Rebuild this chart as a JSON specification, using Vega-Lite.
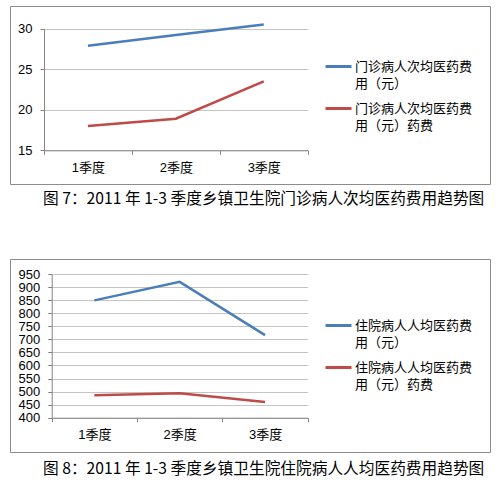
{
  "$schema": "https://vega.github.io/schema/vega-lite/v6.json",
  "background": "white",
  "padding": {"left": 9, "top": 5, "right": 5, "bottom": 0},
  "spacing": 50,
  "datasets": {
    "outpatient": [
      {"季度": "1季度", "指标": "门诊病人次均医药费用（元）", "费用": 27.9},
      {"季度": "2季度", "指标": "门诊病人次均医药费用（元）", "费用": 29.2},
      {"季度": "3季度", "指标": "门诊病人次均医药费用（元）", "费用": 30.5},
      {"季度": "1季度", "指标": "门诊病人次均医药费用（元）药费", "费用": 18.0},
      {"季度": "2季度", "指标": "门诊病人次均医药费用（元）药费", "费用": 18.9},
      {"季度": "3季度", "指标": "门诊病人次均医药费用（元）药费", "费用": 23.5}
    ],
    "inpatient": [
      {"季度": "1季度", "指标": "住院病人人均医药费用（元）", "费用": 849},
      {"季度": "2季度", "指标": "住院病人人均医药费用（元）", "费用": 920},
      {"季度": "3季度", "指标": "住院病人人均医药费用（元）", "费用": 716},
      {"季度": "1季度", "指标": "住院病人人均医药费用（元）药费", "费用": 486},
      {"季度": "2季度", "指标": "住院病人人均医药费用（元）药费", "费用": 494},
      {"季度": "3季度", "指标": "住院病人人均医药费用（元）药费", "费用": 460}
    ]
  },
  "resolve": {"scale": {"color": "independent"}, "legend": {"color": "independent"}},
  "vconcat": [
    {
      "width": 480,
      "height": 178,
      "data": {"name": "outpatient"},
      "title": {"text": "图 7：2011 年 1-3 季度乡镇卫生院门诊病人次均医药费用趋势图", "orient": "bottom", "anchor": "start", "dx": 33, "offset": 8},
      "mark": {"type": "line", "strokeWidth": 2.5},
      "encoding": {
        "x": {
          "field": "季度", "type": "nominal", "sort": null, "bandPosition": 0.5,
          "scale": {"type": "band", "range": [34, 297.7], "paddingInner": 0, "paddingOuter": 0},
          "axis": {"title": null, "offset": -33.7, "labelAngle": 0, "tickBand": "extent", "tickSize": 4, "labelPadding": 7, "grid": false}
        },
        "y": {
          "field": "费用", "type": "quantitative",
          "scale": {"domain": [15, 30], "range": [144.3, 22.6], "nice": false, "zero": false},
          "axis": {"title": null, "offset": -34, "values": [15, 20, 25, 30], "tickSize": 4, "labelPadding": 8, "grid": true}
        },
        "color": {
          "field": "指标", "type": "nominal", "sort": null,
          "scale": {"range": ["#4a7ebb", "#be4b48"]},
          "legend": {"legendX": 314, "legendY": 46, "labelExpr": "[substring(datum.label, 0, 9), substring(datum.label, 9)]"}
        }
      }
    },
    {
      "width": 480,
      "height": 193,
      "data": {"name": "inpatient"},
      "title": {"text": "图 8：2011 年 1-3 季度乡镇卫生院住院病人人均医药费用趋势图", "orient": "bottom", "anchor": "start", "dx": 33, "offset": 10},
      "mark": {"type": "line", "strokeWidth": 2.5},
      "encoding": {
        "x": {
          "field": "季度", "type": "nominal", "sort": null, "bandPosition": 0.5,
          "scale": {"type": "band", "range": [41.7, 297.7], "paddingInner": 0, "paddingOuter": 0},
          "axis": {"title": null, "offset": -34.3, "labelAngle": 0, "tickBand": "extent", "tickSize": 4, "labelPadding": 7, "grid": false}
        },
        "y": {
          "field": "费用", "type": "quantitative",
          "scale": {"domain": [400, 950], "range": [158.7, 15], "nice": false, "zero": false},
          "axis": {"title": null, "offset": -41.7, "values": [400, 450, 500, 550, 600, 650, 700, 750, 800, 850, 900, 950], "tickSize": 4, "labelPadding": 8, "grid": true}
        },
        "color": {
          "field": "指标", "type": "nominal", "sort": null,
          "scale": {"range": ["#4a7ebb", "#be4b48"]},
          "legend": {"legendX": 314, "legendY": 52, "labelExpr": "[substring(datum.label, 0, 9), substring(datum.label, 9)]"}
        }
      }
    }
  ],
  "config": {
    "view": {"stroke": "#8c8c8c", "strokeWidth": 1},
    "axis": {
      "domainColor": "#868686", "tickColor": "#868686", "gridColor": "#c4c4c4",
      "labelFont": "Liberation Sans, Noto Sans CJK SC", "labelFontSize": 13, "labelColor": "#000"
    },
    "legend": {
      "orient": "none", "title": null, "symbolType": "stroke", "symbolSize": 676, "symbolStrokeWidth": 3,
      "labelFont": "Noto Sans CJK SC", "labelFontSize": 13, "labelColor": "#000", "labelLimit": 0,
      "labelOffset": 2, "rowPadding": 3, "padding": 0
    },
    "style": {"guide-label": {"lineHeight": 17}},
    "title": {"font": "Noto Sans CJK SC", "fontSize": 15.7, "fontWeight": "normal", "color": "#000"}
  }
}
